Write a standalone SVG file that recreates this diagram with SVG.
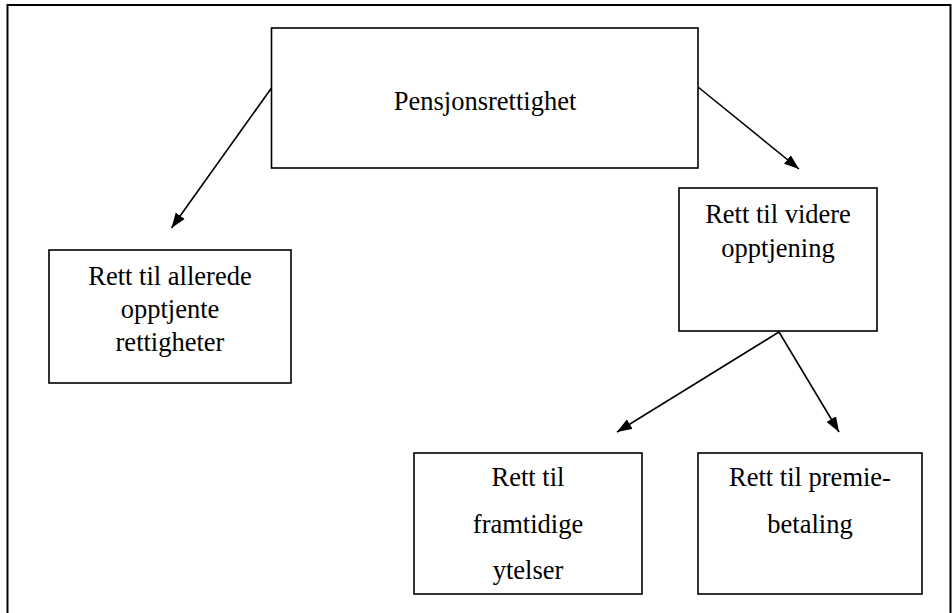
<svg xmlns="http://www.w3.org/2000/svg" width="952" height="613" viewBox="0 0 952 613">
  <style>
    .box { fill: #ffffff; stroke: #000000; stroke-width: 1.6; }
    .frame { fill: none; stroke: #000000; stroke-width: 2; }
    .lbl { font-family: "Liberation Serif", "Times New Roman", serif; font-size: 26.5px; fill: #000000; text-anchor: middle; }
    .conn { stroke: #000000; stroke-width: 1.6; fill: none; marker-end: url(#arrow); }
  </style>
  <defs>
    <marker id="arrow" markerUnits="userSpaceOnUse" markerWidth="16" markerHeight="12" refX="15" refY="6" orient="auto">
      <path d="M0,0.5 L15,6 L0,11.5 Z" fill="#000000"/>
    </marker>
  </defs>
  <rect width="952" height="613" fill="#ffffff"/>
  <path class="frame" d="M7.5,640 L7.5,5 L950.5,5 L950.5,640"/>

  <g id="connectors">
    <line class="conn" x1="271.5" y1="88" x2="171.5" y2="228"/>
    <line class="conn" x1="698" y1="87" x2="799" y2="169"/>
    <line class="conn" x1="779" y1="332" x2="617" y2="432"/>
    <line class="conn" x1="779" y1="332" x2="839" y2="432"/>
  </g>

  <g id="node-pensjonsrettighet">
    <rect class="box" x="271.5" y="28" width="426.5" height="140"/>
    <text class="lbl" x="485" y="110">Pensjonsrettighet</text>
  </g>

  <g id="node-allerede">
    <rect class="box" x="49" y="250" width="242" height="133"/>
    <text class="lbl" x="170" y="285">Rett til allerede</text>
    <text class="lbl" x="170" y="318">opptjente</text>
    <text class="lbl" x="170" y="351">rettigheter</text>
  </g>

  <g id="node-videre">
    <rect class="box" x="679" y="188" width="198" height="143"/>
    <text class="lbl" x="778" y="223">Rett til videre</text>
    <text class="lbl" x="778" y="257">opptjening</text>
  </g>

  <g id="node-framtidige">
    <rect class="box" x="414" y="453" width="228" height="141"/>
    <text class="lbl" x="528" y="486">Rett til</text>
    <text class="lbl" x="528" y="533">framtidige</text>
    <text class="lbl" x="528" y="579">ytelser</text>
  </g>

  <g id="node-premie">
    <rect class="box" x="698" y="453" width="224" height="141"/>
    <text class="lbl" x="810" y="486">Rett til premie-</text>
    <text class="lbl" x="810" y="533">betaling</text>
  </g>
</svg>
